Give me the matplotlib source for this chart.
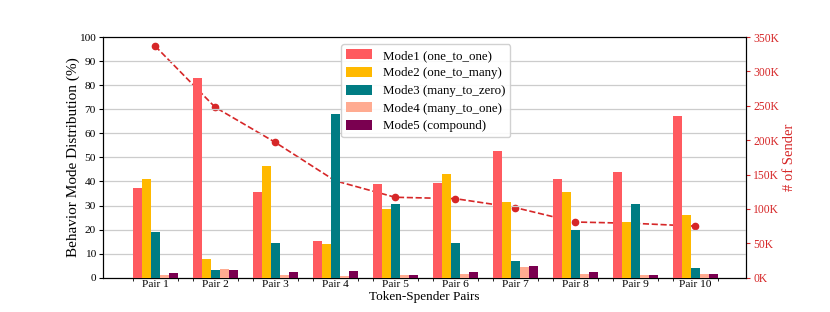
import numpy as np
import matplotlib
matplotlib.use('Agg')
import matplotlib.pyplot as plt
from matplotlib.ticker import FuncFormatter

plt.rcParams['font.family'] = ['Liberation Serif', 'DejaVu Serif']

# data
pairs = ['Pair 1', 'Pair 2', 'Pair 3', 'Pair 4', 'Pair 5',
         'Pair 6', 'Pair 7', 'Pair 8', 'Pair 9', 'Pair 10']
mode_names = ['Mode1 (one_to_one)', 'Mode2 (one_to_many)', 'Mode3 (many_to_zero)',
              'Mode4 (many_to_one)', 'Mode5 (compound)']
mode1 = [37.2, 83.1, 35.8, 15.3, 38.8, 39.4, 52.6, 40.9, 43.8, 67.3]
mode2 = [41.0, 7.6, 46.6, 13.9, 28.6, 43.0, 31.5, 35.6, 23.2, 26.2]
mode3 = [19.0, 3.2, 14.3, 68.0, 30.7, 14.3, 6.8, 20.0, 30.8, 4.0]
mode4 = [1.1, 3.6, 1.1, 0.7, 1.1, 1.5, 4.6, 1.5, 1.2, 1.4]
mode5 = [1.8, 3.0, 2.4, 2.6, 1.1, 2.5, 4.9, 2.2, 1.0, 1.4]
senders = [337000, 248000, 197000, 141000, 117000, 115000, 102000, 81000, 79000, 75000]

colors = ['#FF5A5F', '#FFB900', '#007C83', '#FFAB91', '#7A0050']

fig, ax = plt.subplots(figsize=(8.3, 3.12), dpi=100)
fig.subplots_adjust(left=0.124, right=0.899, top=0.881, bottom=0.11)

x = np.arange(len(pairs))
w = 0.15
for i, vals in enumerate([mode1, mode2, mode3, mode4, mode5]):
    ax.bar(x + (i - 2) * w, vals, w, color=colors[i], label=mode_names[i], zorder=3)

ax.set_ylim(0, 100)
ax.set_yticks(np.arange(0, 101, 10))
ax.set_xlim(-0.87, 9.85)
ax.set_xticks(x)
ax.set_xticklabels(pairs)
# small marks at the edges of each bar group
ax.set_xticks(np.concatenate([x - 2.5 * w, x + 2.5 * w]), minor=True)
ax.tick_params(axis='x', which='major', length=0, pad=2, labelsize=8.2)
ax.tick_params(axis='x', which='minor', length=2)
ax.tick_params(axis='y', labelsize=8.2, length=3, pad=2)
ax.yaxis.grid(True, color='#cccccc', linewidth=0.9, zorder=0)
ax.set_axisbelow(True)
ax.set_ylabel('Behavior Mode Distribution (%)', fontsize=11, labelpad=-0.5)
ax.set_xlabel('Token-Spender Pairs', fontsize=9.5, labelpad=1)

ax2 = ax.twinx()
ax2.plot(x, senders, '--', color='#D62728', marker='o', markersize=4.5, linewidth=1.2, zorder=4)
ax2.set_ylim(0, 350000)
ax2.set_yticks(np.arange(0, 350001, 50000))
ax2.yaxis.set_major_formatter(FuncFormatter(lambda v, p: '%dK' % (v / 1000)))
ax2.tick_params(axis='y', colors='#D62728', labelsize=8.4, length=3, pad=2)
ax2.spines['right'].set_color('black')
ax2.set_ylabel('# of Sender', color='#D62728', fontsize=10.5, labelpad=3)

leg = ax.legend(loc='upper center', bbox_to_anchor=(0.502, 0.997), fontsize=9.3,
                handlelength=2.0, handleheight=0.8, labelspacing=0.4,
                borderpad=0.4, framealpha=0.9)
leg.set_zorder(10)
ax.set_zorder(ax2.get_zorder() + 1)
ax.patch.set_visible(False)

plt.savefig('out.png', dpi=100)
